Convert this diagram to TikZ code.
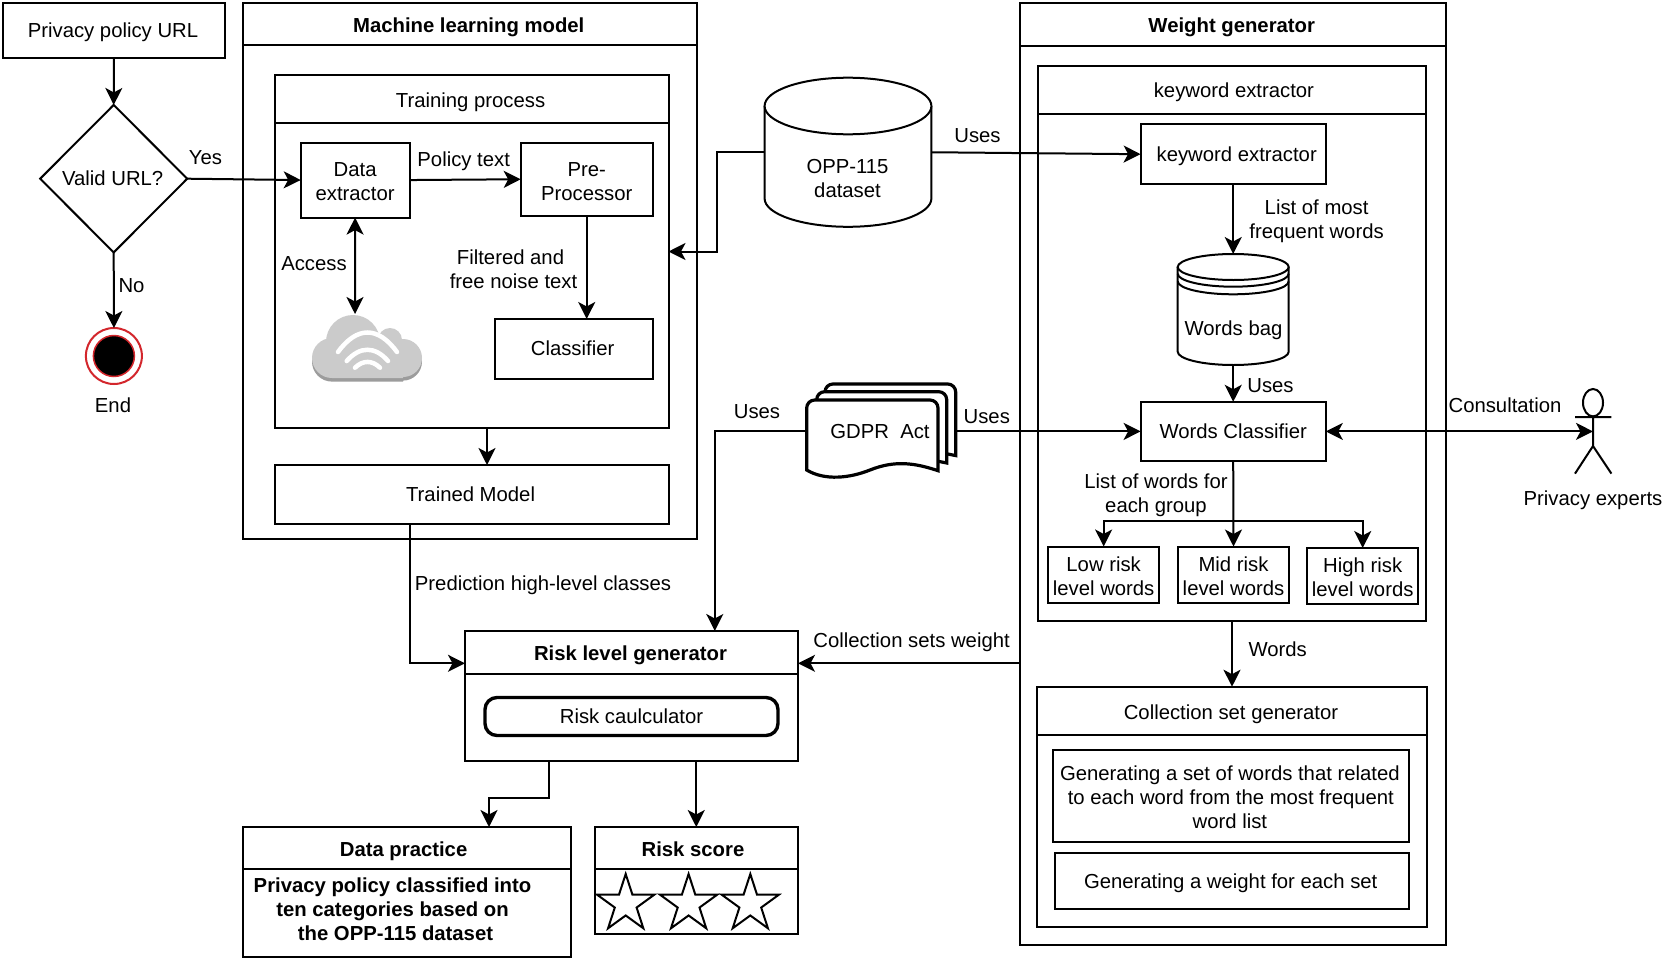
\documentclass[tikz,border=0pt]{standalone}
\usepackage{fontspec}
\setmainfont{Liberation Sans}
\usetikzlibrary{arrows.meta,shapes.geometric}
\newcommand{\stt}{\rule[-5pt]{0pt}{24pt}}
\newcommand{\mlt}{\rule{0pt}{22.6pt}}
\newcommand{\hdt}{\rule{0pt}{21.5pt}}
\newcommand{\rectnode}[7][]{%
  \pgfmathsetmacro{\rcx}{(#3+#5)/2}%
  \pgfmathsetmacro{\rcy}{(#4+#6)/2}%
  \pgfmathsetmacro{\rw}{#5-#3}%
  \pgfmathsetmacro{\rh}{#6-#4}%
  \node[boxnode,minimum width=\rw pt,minimum height=\rh pt,#1] (#2) at (\rcx,\rcy) {#7};}
\newcommand{\pagesheet}[5]{% left top right rightbottom
  \pgfmathsetmacro{\pa}{#2+8}%
  \pgfmathsetmacro{\pb}{#3-8}%
  \pgfmathsetmacro{\pc}{#4-6}%
  \pgfmathsetmacro{\pd}{#3-30}%
  \draw[docline] (#1,#5) -- (#1,\pa) arc[start angle=180,end angle=90,radius=8pt] -- (\pb,#2) arc[start angle=90,end angle=0,radius=8pt] -- (#3,#4) -- (\pd,\pc) -- cycle;}
\newcommand{\pentastar}[2]{%
  \draw[shapeline,miter limit=10,shift={(#1,#2)}] (90:30pt) -- (126:11.46pt) -- (162:30pt) -- (198:11.46pt) -- (234:30pt) -- (270:11.46pt) -- (306:30pt) -- (342:11.46pt) -- (18:30pt) -- (54:11.46pt) -- cycle;}
\tikzset{
  every node/.style={font=\fontsize{20.3}{24}\selectfont,align=center,inner sep=0pt,outer sep=0pt,
    execute at begin node=\stt,execute at end node=\stt},
  boxnode/.style={draw=black,line width=2pt,rectangle,fill=white},
  bolded/.style={font=\fontsize{20.3}{24}\selectfont\bfseries},
  heavybox/.style={line width=3.4pt,rounded corners=12pt},
  conn/.style={line width=2pt,draw=black},
  arr/.style={conn,-{Stealth[length=17pt,width=17pt,inset=4.5pt]}},
  darr/.style={conn,{Stealth[length=17pt,width=17pt,inset=4.5pt]}-{Stealth[length=17pt,width=17pt,inset=4.5pt]}},
  shapeline/.style={line width=2pt,draw=black,fill=white},
  docline/.style={line width=3.2pt,draw=black,fill=white},
  ghost/.style={rectangle},
}
\definecolor{cloudlight}{HTML}{CBCBCB}
\definecolor{clouddark}{HTML}{9C9C9C}
\definecolor{endred}{HTML}{D3262C}
\begin{document}
\begin{tikzpicture}[x=1pt,y=-1pt]
\useasboundingbox (0,0) rectangle (1665,961);
\fill[white] (0,0) rectangle (1665,961);

% left column
\rectnode{priv}{3}{3}{225}{58}{Privacy policy URL\hspace*{2pt}}
\node[diamond,aspect=1,draw=black,line width=2pt,fill=white,minimum width=147pt,minimum height=147.5pt] (dia) at (113.7,178.7) {Valid URL?\hspace*{2pt}};
\node[circle,draw=endred,line width=2pt,fill=white,minimum size=56pt] (endo) at (113.9,356) {};
\node[circle,draw=endred,line width=1.5pt,fill=black,minimum size=41pt] (endi) at (113.9,356) {};
\node (yes) at (205.5,157.7) {Yes};
\node (no) at (131.5,285) {No};
\node (endt) at (113,405) {End};

% machine learning model
\rectnode{ml}{243}{3}{696.5}{539}{}
\rectnode[bolded]{mlh}{243}{3}{696.5}{45}{\hdt Machine learning model\hspace*{2pt}}
\rectnode{train}{274.6}{75}{668.5}{428}{}
\rectnode{trainh}{274.6}{75}{668.5}{122.6}{\rule{0pt}{23pt}Training process\hspace*{2pt}}
\rectnode{dex}{300.7}{142.5}{409.5}{217.6}{\mlt Data\\extractor}
\rectnode{pp}{520.7}{142.5}{652.7}{216}{\mlt Pre-\\Processor}
\rectnode{cls}{494.5}{319}{652.7}{378.5}{Classifier\hspace*{2pt}}
\rectnode{trained}{274.6}{465}{668.5}{524}{Trained Model\hspace*{2pt}}
\node (ptxt) at (463.7,159.5) {Policy text};
\node (acc) at (314,263) {Access};
\node (filt) at (513.5,267.7) {\mlt Filtered and\hspace*{6pt}\\free noise text};

% cloud
\begin{scope}[yshift=-3.6pt]
\fill[clouddark] (332,358) circle[radius=20pt] (403,358) circle[radius=19pt] (332,342) rectangle (403,378);
\end{scope}
\fill[cloudlight] (332,358) circle[radius=20pt] (403,358) circle[radius=19pt] (353,342) circle[radius=27pt] (390,340) circle[radius=12pt] (332,345) rectangle (403,378);
\draw[white,line width=4.5pt,line cap=round] (338,352) .. controls (357,326) and (378,326) .. (397,352);
\draw[white,line width=4.5pt,line cap=round] (346.7,361) .. controls (360,346) and (375,346) .. (388,361);
\draw[white,line width=4.5pt,line cap=round] (355,367.7) .. controls (363,360) and (372,360) .. (380,367.7);
\coordinate (cloud) at (355,314);

% OPP-115 cylinder
\node[ghost,minimum width=166.8pt,minimum height=149pt] (opp) at (848,152.25) {};
\draw[shapeline] (764.6,106) -- (764.6,198.5) arc[start angle=180,end angle=360,x radius=83.4pt,y radius=28.3pt] -- (931.4,106);
\draw[shapeline] (848,106) ellipse[x radius=83.4pt,y radius=28.3pt];
\node (opptxt) at (847.5,177) {\mlt OPP-115\\dataset};

% weight generator
\rectnode{wg}{1020}{3}{1445.5}{945}{}
\rectnode[bolded]{wgh}{1020}{3}{1445.5}{45.7}{\hdt Weight generator\hspace*{2pt}}
\rectnode{kwc}{1037.8}{66}{1426}{620.7}{}
\rectnode{kwch}{1037.8}{66}{1426}{114}{\hspace*{4pt}keyword extractor}
\rectnode{kw}{1140.6}{124.4}{1325.8}{184}{\hspace*{7pt}keyword extractor}
\rectnode{wc}{1140.6}{401.8}{1325.8}{461}{Words Classifier}
\rectnode{low}{1048.3}{546.5}{1159}{602.7}{\mlt Low risk\\level words}
\rectnode{mid}{1178}{546.5}{1289}{602.7}{\mlt Mid risk\\level words}
\rectnode{high}{1307.4}{548}{1418}{604}{\mlt High risk\\level words}
\node (lmf) at (1316.6,218) {\mlt List of most\\frequent words};
\node (u3) at (1270.5,385.5) {Uses};
\node (lwg) at (1156,492) {\mlt List of words for\\each group};

% words bag
\node[ghost,minimum width=111pt,minimum height=111pt] (bag) at (1233.2,309.5) {};
\draw[shapeline] (1177.7,267) -- (1177.7,351.7) arc[start angle=180,end angle=360,x radius=55.5pt,y radius=13.3pt] -- (1288.7,267);
\draw[shapeline] (1233.2,267) ellipse[x radius=55.5pt,y radius=13pt];
\draw[line width=2pt] (1177.7,273.7) arc[start angle=180,end angle=360,x radius=55.5pt,y radius=13pt];
\draw[line width=2pt] (1177.7,281.3) arc[start angle=180,end angle=360,x radius=55.5pt,y radius=13pt];
\node (bagt) at (1233.5,328) {Words bag};

% collection set generator
\rectnode{csg}{1037.3}{686.7}{1426.7}{926.7}{}
\rectnode{csgh}{1037.3}{686.7}{1426.7}{735}{\hdt Collection set generator\hspace*{2pt}}
\rectnode{gen1}{1053}{750}{1408.7}{841.7}{\mlt Generating a set of words that related\hspace*{2pt}\\to each word from the most frequent\hspace*{2pt}\\word list\hspace*{2pt}}
\rectnode{gen2}{1054.7}{853.3}{1408.7}{908.7}{Generating a weight for each set\hspace*{2pt}}
\node (wrds) at (1277.7,649) {Words};

% GDPR
\pagesheet{825}{384}{955.7}{455.6}{450}
\pagesheet{816.7}{391.7}{946.7}{463}{450}
\draw[docline] (938,470.7) .. controls (915,463) and (895,460) .. (870,470) .. controls (850,478) and (825,481) .. (806.7,470) -- (806.7,408) arc[start angle=180,end angle=90,radius=8pt] -- (930,400) arc[start angle=90,end angle=0,radius=8pt] -- cycle;
\node[ghost,minimum width=149pt,minimum height=40pt] (gdpr) at (881.2,431.4) {};
\node (gdprt) at (880,431.4) {GDPR\ \ Act};

% risk level generator
\rectnode{risk}{465}{631}{798}{760.7}{}
\rectnode[bolded]{riskh}{465}{631}{798}{673.7}{\hdt Risk level generator\hspace*{2pt}}
\rectnode[heavybox]{calc}{485}{697.5}{778}{735.5}{Risk caulculator}

% outputs
\rectnode{dp}{243}{827}{570.7}{957}{}
\rectnode[bolded]{dph}{243}{827}{570.7}{869.3}{\hdt Data practice\hspace*{6.5pt}}
\node[bolded] (dpt) at (392.5,908) {\mlt Privacy policy classified into\\ten categories based on\\\hspace*{6pt}the OPP-115 dataset};
\rectnode{score}{594.5}{827}{798}{934}{}
\rectnode[bolded]{scoreh}{594.5}{827}{798}{869.3}{\hdt Risk score\hspace*{6.5pt}}
\pentastar{625.7}{904}
\pentastar{688.6}{904}
\pentastar{750.3}{904}

% actor
\coordinate (actor) at (1593,431.4);
\draw[shapeline] (1593,402.7) ellipse[x radius=10pt,y radius=13.7pt];
\draw[line width=2pt] (1593,416.5) -- (1593,446) (1575,417) -- (1611.4,417) (1575,473.6) -- (1593,446) -- (1611.4,473.6);
\node (pex) at (1593,498) {Privacy experts};

% free labels
\node (u1) at (977.5,135.8) {Uses};
\node (u4) at (757,411) {Uses};
\node (u5) at (986.8,416.6) {Uses};
\node (cons) at (1505,405.5) {Consultation};
\node (pred) at (543,583) {Prediction high-level classes};
\node (csw) at (911.6,640.7) {Collection sets weight};

% helper coordinates
\coordinate (tmx) at (487,0);
\coordinate (ojog) at (716.6,0);
\coordinate (rinw) at (465,663.3);
\coordinate (tx) at (409.5,0);
\coordinate (gx) at (714.8,0);
\coordinate (rpx) at (548.6,797.7);
\coordinate (dpx) at (489,797.7);
\coordinate (br) at (1233.5,520.6);

% connectors
\draw[arr] (priv.south) -- (dia.north);
\draw[arr] (dia.south) -- (endo.north);
\draw[arr] (dia.east) -- (dex.west);
\draw[arr] (dex.east) -- (pp.west);
\draw[darr] (dex.south) -- (cloud);
\draw[arr] (pp.south) -- (pp.south |- cls.north);
\draw[arr] (train.south -| tmx) -- (trained.north -| tmx);
\draw[arr] (opp.west) -| (ojog |- train.east) -- (train.east);
\draw[arr] (opp.east) -- (kw.west);
\draw[arr] (kw.south) -- (bag.north);
\draw[arr] (bag.south) -- (wc.north);
\draw[arr] (gdpr.east) -- (wc.west);
\draw[darr] (wc.east) -- (actor);
\draw[arr] (gdpr.west) -| (gx |- risk.north);
\draw[arr] (trained.south -| tx) |- (rinw);
\draw[arr] (wg.west |- rinw) -- (risk.east |- rinw);
\draw[arr] (wc.south) -- (mid.north);
\draw[arr] (br) -| (low.north);
\draw[arr] (br) -| (high.north);
\draw[arr] (csg.north |- kwc.south) -- (csg.north);
\draw[arr] (risk.south -| rpx) -- (rpx) -- (dpx) -- (dp.north -| dpx);
\draw[arr] (risk.south -| score.north) -- (score.north);
\end{tikzpicture}
\end{document}
